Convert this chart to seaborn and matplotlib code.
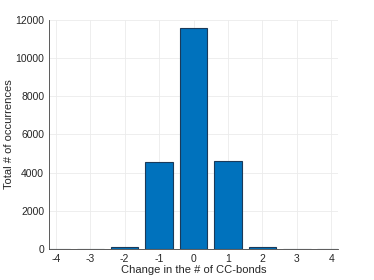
import numpy as np
import pandas as pd
import matplotlib
matplotlib.use("Agg")
import matplotlib.pyplot as plt
import seaborn as sns

# data
change = [-4, -3, -2, -1, 0, 1, 2, 3, 4]
occurrences = [3, 12, 95, 4580, 11570, 4610, 95, 12, 3]

df = pd.DataFrame({"change": change, "count": occurrences})

sns.set_style("white")
plt.rcParams["font.family"] = ["Liberation Sans", "DejaVu Sans"]
plt.rcParams["axes.unicode_minus"] = False

fig = plt.figure(figsize=(3.74, 2.8), dpi=100)
ax = fig.add_axes([0.131, 0.111, 0.773, 0.818])

sns.barplot(data=df, x="change", y="count", native_scale=True, width=0.8,
            color="#0072BD", saturation=1, edgecolor="#1a3a5a", linewidth=0.8, ax=ax)

ax.set_xlim(-4.2, 4.2)
ax.set_ylim(0, 12000)
ax.set_xticks(change)
ax.set_yticks(range(0, 12001, 2000))
ax.grid(True, color="#ebebeb", linewidth=0.6)
ax.set_axisbelow(True)

for s in ["top", "right"]:
    ax.spines[s].set_visible(False)
for s in ["left", "bottom"]:
    ax.spines[s].set_color("#404040")
    ax.spines[s].set_linewidth(0.6)

ax.tick_params(direction="in", length=3, width=0.6, colors="#262626", labelsize=7.5)
ax.set_xlabel("Change in the # of CC-bonds", fontsize=8, color="#262626", labelpad=1)
ax.set_ylabel("Total # of occurrences", fontsize=8, color="#262626")
ax.yaxis.set_label_coords(-0.122, 0.5)

fig.savefig("out.png", dpi=100)
